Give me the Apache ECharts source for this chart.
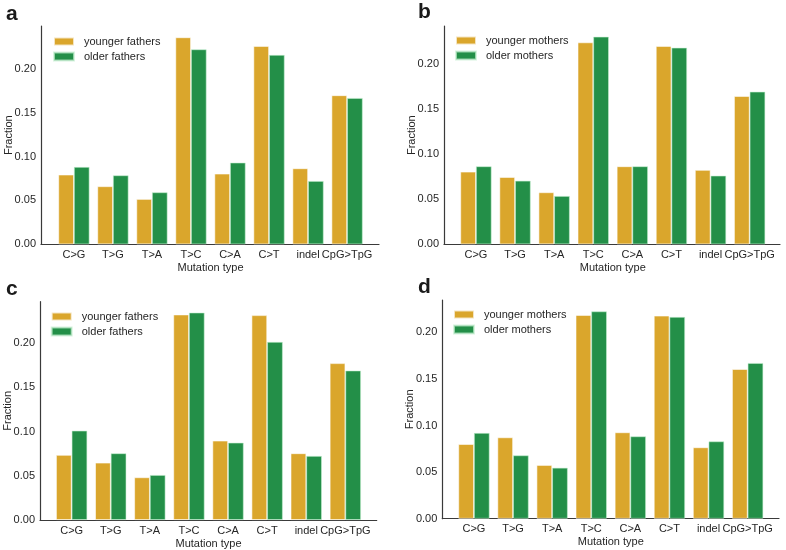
<!DOCTYPE html>
<html><head><meta charset="utf-8">
<script src="https://cdn.jsdelivr.net/npm/echarts@6/dist/echarts.min.js"></script>
<style>html,body{margin:0;padding:0;background:#fff}#c{width:786px;height:550px}</style>
</head><body><div id="c"></div>
<script>
const categories = ['C>G','T>G','T>A','T>C','C>A','C>T','indel','CpG>TpG'];
const yTicks = [0, 0.05, 0.10, 0.15, 0.20];

const aYounger = [0.0795, 0.0662, 0.0517, 0.2361, 0.0806, 0.2262, 0.0867, 0.1700];
const aOlder   = [0.0882, 0.0787, 0.0593, 0.2224, 0.0932, 0.2160, 0.0722, 0.1669];
const bYounger = [0.0807, 0.0748, 0.0578, 0.2244, 0.0867, 0.2204, 0.0826, 0.1648];
const bOlder   = [0.0867, 0.0707, 0.0537, 0.2307, 0.0867, 0.2185, 0.0763, 0.1696];
const cYounger = [0.0736, 0.0649, 0.0483, 0.2325, 0.0898, 0.2317, 0.0755, 0.1774];
const cOlder   = [0.1011, 0.0755, 0.0509, 0.2347, 0.0875, 0.2015, 0.0725, 0.1691];
const dYounger = [0.0801, 0.0873, 0.0576, 0.2186, 0.0927, 0.2179, 0.0766, 0.1606];
const dOlder   = [0.0920, 0.0680, 0.0547, 0.2225, 0.0884, 0.2165, 0.0830, 0.1671];

const youngerNames = ['younger fathers','younger mothers','younger fathers','younger mothers'];
const olderNames = ['older fathers','older mothers','older fathers','older mothers'];

const YELLOW = '#DAA62C', GREEN = '#238F48', TXT = '#262626', AX = '#3a3a3a';
const FONT = 'Liberation Sans, Arial, sans-serif';

const panels = [
  {letter:'a', young:aYounger, old:aOlder, axisX:41, top:26, zero:244.3, xEnd:379, bandL:54.4, bandR:366.6, ymax:0.249,
   letterPos:[6,4], legend:[53,36]},
  {letter:'b', young:bYounger, old:bOlder, axisX:444, top:26, zero:244.3, xEnd:780, bandL:456.4, bandR:769.2, ymax:0.2426,
   letterPos:[418,2], legend:[455,35]},
  {letter:'c', young:cYounger, old:cOlder, axisX:40, top:301.7, zero:520, xEnd:376.7, bandL:52.1, bandR:364.9, ymax:0.247,
   letterPos:[6,279], legend:[50.7,311]},
  {letter:'d', young:dYounger, old:dOlder, axisX:442.3, top:300, zero:518.7, xEnd:779, bandL:454.4, bandR:767.2, ymax:0.2347,
   letterPos:[418,277], legend:[453,309]}
];

const grid=[], xAxis=[], yAxis=[], series=[], legend=[], graphic=[];
panels.forEach((p, i) => {
  const h = p.zero - p.top;
  grid.push({left:p.axisX, top:p.top, width:p.xEnd - p.axisX, height:h, containLabel:false});
  grid.push({left:p.bandL, top:p.top, width:p.bandR - p.bandL, height:h, containLabel:false});
  const gF = 2*i, gB = 2*i+1;
  xAxis.push({type:'value', gridIndex:gF, min:0, max:1, axisLine:{show:true, onZero:false, lineStyle:{color:AX, width:1.2}},
    axisTick:{show:false}, axisLabel:{show:false}, splitLine:{show:false}});
  xAxis.push({type:'category', gridIndex:gB, data:categories, axisLine:{show:false}, axisTick:{show:false},
    axisLabel:{color:TXT, fontFamily:FONT, fontSize:11, margin:5, interval:0},
    splitLine:{show:false},
    name:'Mutation type', nameLocation:'middle', nameGap:18, nameMoveOverlap:false,
    nameTextStyle:{color:TXT, fontFamily:FONT, fontSize:11}});
  yAxis.push({type:'value', gridIndex:gF, min:0, max:p.ymax, interval:0.05,
    axisLine:{show:true, lineStyle:{color:AX, width:1.2}}, axisTick:{show:false}, splitLine:{show:false},
    axisLabel:{color:TXT, fontFamily:FONT, fontSize:11, margin:5, showMaxLabel:false,
      formatter: v => { const t = yTicks.find(k => Math.abs(k - v) < 1e-9); return t === undefined ? '' : t.toFixed(2); }},
    name:'Fraction', nameLocation:'middle', nameGap:27, nameMoveOverlap:false,
    nameTextStyle:{color:TXT, fontFamily:FONT, fontSize:11}});
  yAxis.push({type:'value', gridIndex:gB, min:0, max:p.ymax, show:false});
  const xi = 2*i+1, yi = 2*i+1;
  series.push({type:'bar', name:youngerNames[i], xAxisIndex:xi, yAxisIndex:yi, data:p.young,
    barGap:'0%', barCategoryGap:'20%', itemStyle:{color:YELLOW, borderColor:'rgba(255,255,255,0.7)', borderWidth:0.8}, animation:false});
  series.push({type:'bar', name:olderNames[i], xAxisIndex:xi, yAxisIndex:yi, data:p.old,
    barGap:'0%', barCategoryGap:'20%', itemStyle:{color:GREEN, borderColor:'rgba(200,240,210,0.7)', borderWidth:0.8}, animation:false});
  legend.push({orient:'vertical', left:p.legend[0] - 5, top:p.legend[1] - 5, itemWidth:20, itemHeight:8, itemGap:4,
    icon:'rect', selectedMode:false, data:[youngerNames[i], olderNames[i]],
    textStyle:{color:TXT, fontFamily:FONT, fontSize:11, padding:[0,0,0,5]}});
  graphic.push({type:'text', left:p.letterPos[0], top:p.letterPos[1],
    style:{text:p.letter, font:'bold 21px ' + FONT, fill:'#1a1a1a'}});
});

const chart = echarts.init(document.getElementById('c'), null, {renderer:'canvas'});
chart.setOption({animation:false, backgroundColor:'#fff', grid, xAxis, yAxis, series, legend, graphic});
</script></body></html>
